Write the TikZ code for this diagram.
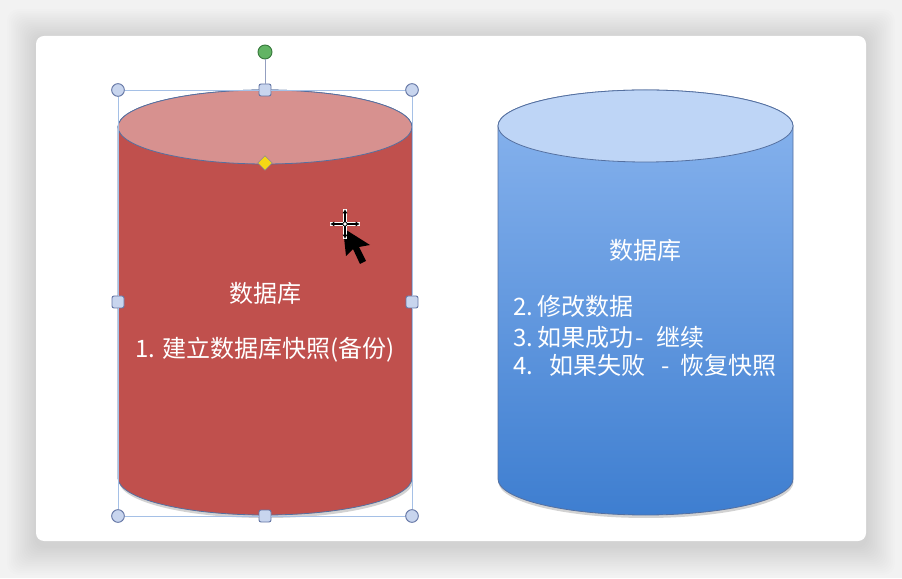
\documentclass[tikz,border=0pt]{standalone}
\usepackage{fontspec}
\newfontfamily\cjk{Noto Sans CJK SC}
\usetikzlibrary{arrows.meta,shapes.geometric}

\definecolor{pagegray}{RGB}{242,242,242}
\definecolor{dbred}{RGB}{192,80,77}
\definecolor{dbredtop}{RGB}{215,145,143}
\definecolor{dbbluetop}{RGB}{190,213,246}
\definecolor{dbbluehi}{RGB}{138,181,239}
\definecolor{dbbluelo}{RGB}{62,126,208}
\definecolor{rimline}{RGB}{85,112,160}
\definecolor{selline}{RGB}{165,192,230}
\definecolor{knobfill}{RGB}{200,213,238}
\definecolor{knobline}{RGB}{100,118,165}
\definecolor{turnfill}{RGB}{98,180,100}
\definecolor{turnline}{RGB}{55,120,60}
\definecolor{shapefill}{RGB}{245,215,20}

\tikzset{
  cornerknob/.style={circle,draw=knobline,fill=knobfill,line width=0.7pt,
    inner sep=0pt,minimum size=9.5pt},
  edgeknob/.style={rectangle,rounded corners=1.5pt,draw=knobline,fill=knobfill,
    line width=0.7pt,inner sep=0pt,minimum size=9pt},
  turnknob/.style={circle,draw=turnline,fill=turnfill,line width=0.7pt,
    inner sep=0pt,minimum size=10.5pt},
  shapeknob/.style={diamond,draw=black!45,fill=shapefill,line width=0.4pt,
    inner sep=0pt,minimum size=11pt},
  rim/.style={draw=rimline,line width=0.6pt},
  dbtext/.style={font=\cjk\fontsize{18}{22}\selectfont,text=white,inner sep=0pt}
}

\begin{document}
\begin{tikzpicture}[x=0.75pt,y=0.75pt]
  % page and card
  \useasboundingbox (0,0) rectangle (902,578);
  \fill[pagegray] (0,0) rectangle (902,578);
  \foreach \i in {1,...,16}
    \fill[black,opacity=0.009,rounded corners=8pt]
      ({36-\i*1.8},{32-\i*1.8}) rectangle ({866+\i*1.8},{540+\i*1.8});
  \fill[white,rounded corners=6pt] (36,37) rectangle (866,542);

  % red cylinder (selected)
  \fill[black!35,opacity=0.5] (266,97) ellipse [x radius=147,y radius=37];
  \path[rim,fill=dbred] (118,451) -- (118,100)
    arc[start angle=180,end angle=360,x radius=147,y radius=37]
    -- (412,451)
    arc[start angle=0,end angle=180,x radius=147,y radius=37] -- cycle;
  \path[rim,fill=dbredtop] (265,451) ellipse [x radius=147,y radius=37];

  \node[dbtext] (red-title) at (265,285) {数据库};
  \node[dbtext] (red-step) at (265,228) {1. 建立数据库快照(备份)};

  % blue cylinder
  \fill[black!35,opacity=0.5] (646,96) ellipse [x radius=147.5,y radius=36];
  \path[rim,top color=dbbluehi,bottom color=dbbluelo] (498,452) -- (498,99)
    arc[start angle=180,end angle=360,x radius=147.5,y radius=36]
    -- (793,452)
    arc[start angle=0,end angle=180,x radius=147.5,y radius=36] -- cycle;
  \path[rim,fill=dbbluetop] (645.5,452) ellipse [x radius=147.5,y radius=36];

  \node[dbtext] (blue-title) at (645,328) {数据库};
  \node[dbtext,anchor=west] (blue-step2) at (513,272)
    {2.\hspace{3pt}修改数据};
  \node[dbtext,anchor=west] (blue-step3) at (513,241)
    {3.\hspace{3pt}如果成功\hspace{2pt}-\hspace{9pt}继续};
  \node[dbtext,anchor=west] (blue-step4) at (513,213)
    {4.\hspace{12pt}如果失败\hspace{12pt}-\hspace{8pt}恢复快照};

  % selection frame round the red cylinder
  \node[cornerknob] (sel-nw) at (118,488) {};
  \node[cornerknob] (sel-ne) at (412,488) {};
  \node[cornerknob] (sel-sw) at (118,62) {};
  \node[cornerknob] (sel-se) at (412,62) {};
  \node[edgeknob] (sel-n) at (265,488) {};
  \node[edgeknob] (sel-s) at (265,62) {};
  \node[edgeknob] (sel-w) at (118,276) {};
  \node[edgeknob] (sel-e) at (412,276) {};
  \node[turnknob] (sel-turn) at (265,526) {};
  \node[shapeknob] (sel-shape) at (265,415) {};
  \draw[selline,line width=0.7pt] (sel-nw) -- (sel-n) -- (sel-ne) -- (sel-e)
    -- (sel-se) -- (sel-s) -- (sel-sw) -- (sel-w) -- (sel-nw);
  \draw[knobline!70,line width=0.7pt] (sel-turn) -- (sel-n);

  % mouse pointer with move cross
  \fill[black] (343,350) -- (346,322) -- (353,329) -- (360,314)
    -- (366,317) -- (359,331) -- (370,333) -- cycle;
  \coordinate (move) at (345,354);
  \draw[white,line width=3pt] ([xshift=-11]move) -- ([xshift=11]move)
    ([yshift=-11]move) -- ([yshift=11]move);
  \draw[black,line width=0.9pt,{Latex[length=3pt,width=4pt]}-{Latex[length=3pt,width=4pt]}]
    ([xshift=-11]move) -- ([xshift=11]move);
  \draw[black,line width=0.9pt,{Latex[length=3pt,width=4pt]}-{Latex[length=3pt,width=4pt]}]
    ([yshift=-11]move) -- ([yshift=11]move);
  \draw[black,fill=white,line width=0.5pt] (move) circle (1.6pt);
\end{tikzpicture}
\end{document}
